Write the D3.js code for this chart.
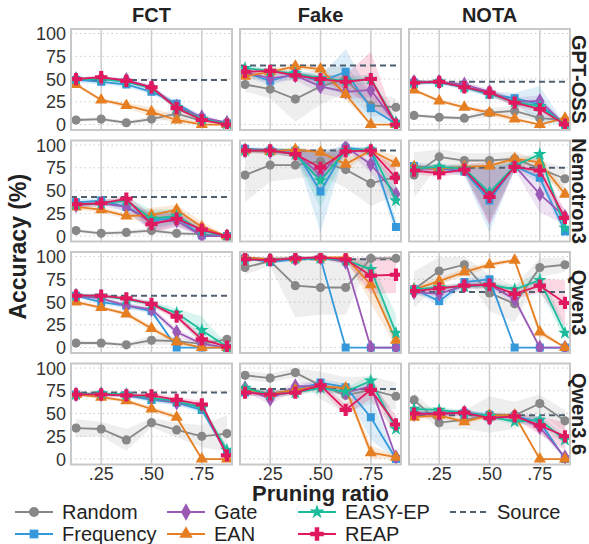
<!DOCTYPE html>
<html>
<head>
<meta charset="utf-8">
<script src="https://cdn.jsdelivr.net/npm/d3@7"></script>
<style>
  body { margin: 0; background: #fff; }
  svg { font-family: "Liberation Sans", Arial, sans-serif; }
</style>
</head>
<body>
<svg id="chart" width="589" height="544"></svg>
<script>

// pruning ratios on the x axis
var ratios = [0.125, 0.25, 0.375, 0.5, 0.625, 0.75, 0.875];
var seriesNames = ['Random', 'Frequency', 'Gate', 'EAN', 'EASY-EP', 'REAP'];
var colNames = ['FCT', 'Fake', 'NOTA'];
var rowNames = ['GPT-OSS', 'Nemotron3', 'Qwen3', 'Qwen3.6'];
var yTicks = [0, 25, 50, 75, 100];
var xTicks = [0.25, 0.5, 0.75];
var xTickLabels = ['.25', '.50', '.75'];

// source (unpruned) accuracy, rows x cols
var sourceAcc = [
  [49, 65, 47],
  [43, 94, 75],
  [57, 97, 61],
  [73, 77, 48]
];

// mean accuracy per panel, series order as seriesNames
var gptFct = [
  [5, 6, 2, 6, 12, 4, 2],
  [49, 47, 44, 36, 23, 7, 1],
  [50, 51, 49, 41, 20, 8, 2],
  [44, 27, 21, 14, 5, 0, 0],
  [50, 50, 47, 40, 19, 6, 1],
  [50, 52, 48, 41, 18, 5, 0]
];
var gptFake = [
  [44, 39, 28, 42, 50, 21, 19],
  [57, 48, 56, 47, 58, 18, 1],
  [57, 51, 54, 42, 36, 38, 1],
  [53, 58, 64, 61, 33, 0, 0],
  [62, 59, 56, 51, 48, 50, 2],
  [58, 59, 54, 50, 47, 50, 0]
];
var gptNota = [
  [10, 8, 7, 13, 15, 7, 5],
  [46, 46, 41, 33, 29, 22, 0],
  [47, 47, 44, 36, 25, 26, 0],
  [38, 26, 19, 13, 6, 0, 7],
  [46, 47, 41, 34, 25, 20, 0],
  [46, 47, 41, 35, 24, 17, 0]
];
var nemoFct = [
  [6, 3, 4, 6, 3, 2, 0],
  [37, 39, 32, 17, 20, 1, 0],
  [34, 36, 32, 15, 17, 0, 0],
  [32, 29, 22, 23, 29, 10, 0],
  [35, 36, 39, 19, 22, 6, 0],
  [35, 36, 41, 13, 19, 7, 0]
];
var nemoFake = [
  [67, 78, 78, 82, 73, 58, 65],
  [96, 94, 94, 49, 97, 94, 10],
  [94, 93, 91, 67, 98, 79, 46],
  [94, 93, 95, 92, 79, 94, 80],
  [94, 94, 90, 61, 94, 95, 39],
  [94, 94, 90, 75, 93, 94, 64]
];
var nemoNota = [
  [67, 87, 83, 83, 85, 74, 63],
  [77, 74, 71, 39, 77, 64, 5],
  [74, 74, 74, 46, 77, 46, 21],
  [76, 74, 76, 77, 85, 81, 46],
  [74, 76, 74, 48, 77, 90, 9],
  [72, 69, 73, 43, 76, 72, 20]
];
var qwen3Fct = [
  [5, 5, 3, 8, 7, 4, 9],
  [57, 50, 46, 40, 0, 0, 0],
  [57, 54, 46, 42, 17, 4, 0],
  [50, 44, 37, 21, 6, 0, 0],
  [57, 57, 53, 48, 38, 19, 1],
  [57, 57, 54, 48, 34, 9, 1]
];
var qwen3Fake = [
  [88, 95, 68, 66, 66, 98, 98],
  [98, 94, 97, 98, 0, 0, 0],
  [99, 97, 98, 99, 94, 0, 0],
  [99, 97, 98, 99, 99, 69, 8],
  [97, 96, 98, 98, 96, 86, 16],
  [97, 96, 98, 99, 97, 79, 80]
];
var qwen3Nota = [
  [64, 84, 91, 60, 48, 88, 91],
  [64, 51, 72, 75, 0, 0, 0],
  [61, 59, 68, 69, 53, 0, 0],
  [64, 73, 83, 91, 96, 17, 0],
  [64, 66, 67, 69, 64, 74, 16],
  [62, 65, 68, 69, 59, 68, 49]
];
var qwen36Fct = [
  [34, 33, 21, 40, 32, 25, 28],
  [71, 71, 70, 65, 62, 54, 7],
  [71, 71, 70, 67, 62, 58, 5],
  [71, 68, 64, 55, 46, 0, 0],
  [71, 72, 71, 67, 64, 56, 10],
  [71, 71, 70, 70, 65, 60, 4]
];
var qwen36Fake = [
  [92, 89, 95, 81, 70, 76, 69],
  [73, 72, 76, 84, 79, 46, 0],
  [78, 66, 80, 80, 73, 80, 2],
  [76, 72, 76, 80, 78, 7, 2],
  [78, 71, 73, 78, 74, 86, 33],
  [73, 71, 73, 81, 54, 76, 38]
];
var qwen36Nota = [
  [65, 40, 43, 49, 48, 61, 42],
  [50, 51, 51, 48, 47, 41, 0],
  [49, 49, 51, 45, 47, 35, 2],
  [46, 48, 41, 48, 48, 0, 0],
  [55, 54, 51, 47, 41, 43, 21],
  [50, 50, 51, 45, 47, 37, 25]
];

// spread (half width of the shaded band) per panel
var gptFctSd = [
  [2, 2, 2, 3, 5, 3, 2], [3, 3, 3, 3, 3, 2, 1], [2, 2, 2, 3, 3, 3, 1],
  [2, 2, 3, 5, 4, 1, 0], [2, 2, 2, 2, 3, 2, 1], [2, 2, 2, 2, 3, 2, 1]
];
var gptFakeSd = [
  [8, 10, 25, 20, 15, 12, 10], [4, 5, 4, 6, 25, 15, 1], [4, 5, 5, 8, 8, 8, 1],
  [4, 4, 3, 4, 6, 1, 0], [3, 3, 3, 4, 5, 5, 1], [4, 3, 3, 4, 8, 30, 1]
];
var gptNotaSd = [
  [2, 2, 2, 5, 6, 4, 2], [2, 2, 3, 3, 6, 20, 0], [2, 2, 3, 3, 5, 6, 0],
  [2, 2, 2, 3, 3, 1, 2], [2, 2, 2, 3, 4, 4, 0], [2, 2, 2, 3, 4, 4, 0]
];
var nemoFctSd = [
  [2, 2, 2, 3, 2, 1, 0], [3, 3, 5, 10, 8, 3, 0], [3, 3, 5, 10, 8, 3, 0],
  [3, 3, 3, 8, 5, 6, 0], [3, 3, 4, 10, 8, 4, 0], [3, 3, 4, 10, 8, 6, 0]
];
var nemoFakeSd = [
  [30, 18, 15, 15, 20, 25, 20], [2, 3, 3, 45, 2, 3, 10], [3, 3, 4, 25, 2, 10, 15],
  [2, 3, 2, 3, 6, 3, 8], [2, 3, 4, 30, 3, 3, 12], [2, 3, 4, 15, 3, 3, 10]
];
var nemoNotaSd = [
  [25, 8, 8, 8, 8, 10, 12], [4, 4, 5, 35, 4, 6, 5], [4, 4, 5, 35, 4, 20, 8],
  [3, 3, 3, 4, 4, 5, 6], [3, 3, 4, 30, 4, 4, 6], [4, 4, 4, 30, 4, 6, 8]
];
var qwen3FctSd = [
  [3, 2, 2, 5, 4, 3, 3], [2, 3, 3, 3, 1, 1, 0], [2, 3, 3, 3, 4, 2, 0],
  [2, 2, 3, 3, 3, 0, 0], [2, 2, 2, 3, 5, 15, 2], [2, 2, 2, 3, 4, 4, 1]
];
var qwen3FakeSd = [
  [8, 5, 35, 30, 30, 3, 3], [1, 2, 2, 2, 0, 0, 0], [1, 2, 2, 2, 3, 0, 0],
  [1, 2, 2, 1, 1, 20, 8], [1, 2, 2, 2, 2, 10, 20], [1, 2, 2, 1, 2, 20, 20]
];
var qwen3NotaSd = [
  [20, 15, 10, 20, 20, 10, 8], [3, 5, 4, 4, 0, 0, 0], [3, 4, 4, 4, 5, 0, 0],
  [3, 4, 4, 3, 2, 5, 0], [3, 3, 3, 3, 4, 10, 8], [3, 3, 3, 3, 5, 8, 25]
];
var qwen36FctSd = [
  [10, 8, 12, 5, 8, 12, 20], [2, 2, 2, 3, 3, 4, 3], [2, 2, 2, 3, 3, 4, 3],
  [2, 2, 2, 3, 3, 1, 0], [2, 2, 2, 3, 3, 4, 4], [2, 2, 2, 3, 3, 4, 3]
];
var qwen36FakeSd = [
  [5, 5, 5, 15, 20, 15, 15], [3, 4, 3, 4, 4, 25, 1], [4, 6, 4, 4, 4, 4, 2],
  [3, 3, 3, 3, 3, 8, 2], [3, 3, 3, 4, 4, 6, 8], [3, 3, 3, 4, 6, 10, 10]
];
var qwen36NotaSd = [
  [8, 8, 10, 20, 15, 10, 12], [3, 3, 3, 3, 3, 5, 1], [3, 3, 3, 3, 3, 5, 2],
  [3, 3, 3, 3, 3, 1, 0], [3, 3, 3, 3, 3, 5, 5], [3, 3, 3, 3, 3, 10, 15]
];

var panelMeans = [
  [gptFct, gptFake, gptNota],
  [nemoFct, nemoFake, nemoNota],
  [qwen3Fct, qwen3Fake, qwen3Nota],
  [qwen36Fct, qwen36Fake, qwen36Nota]
];
var panelSds = [
  [gptFctSd, gptFakeSd, gptNotaSd],
  [nemoFctSd, nemoFakeSd, nemoNotaSd],
  [qwen3FctSd, qwen3FakeSd, qwen3NotaSd],
  [qwen36FctSd, qwen36FakeSd, qwen36NotaSd]
];

var colors = {
  'Random': '#888888',
  'Frequency': '#3498db',
  'Gate': '#9b59b6',
  'EAN': '#e67e22',
  'EASY-EP': '#1abc9c',
  'REAP': '#e0195f'
};
var symbols = {
  'Random': { type: d3.symbolCircle, size: 66 },
  'Frequency': { type: d3.symbolSquare, size: 64 },
  'Gate': { type: d3.symbolDiamond, size: 72 },
  'EAN': { type: d3.symbolTriangle, size: 64 },
  'EASY-EP': { type: d3.symbolStar, size: 58 },
  'REAP': { type: d3.symbolCross, size: 84 }
};
var sourceColor = '#4f5f70';

var svg = d3.select('#chart');

// note: "top" is taken by window.top, so use other names
var gridLeft = 71, gridTop = 29;
var panelW = 161, panelH = 101;
var gapX = 8, gapY = 10.5;

var x = d3.scaleLinear().domain([0.1, 0.9]).range([0, panelW]);
var y = d3.scaleLinear().domain([-6, 105]).range([panelH, 0]);

var line = d3.line()
  .x(function(d, i) { return x(ratios[i]); })
  .y(function(d) { return y(d); });

var band = d3.area()
  .x(function(d) { return x(d.r); })
  .y0(function(d) { return y(Math.max(0, d.lo)); })
  .y1(function(d) { return y(Math.min(100, d.hi)); });

rowNames.forEach(function(rowName, ri) {
  colNames.forEach(function(colName, ci) {

    var px = gridLeft + ci * (panelW + gapX);
    var py = gridTop + ri * (panelH + gapY);
    var g = svg.append('g')
      .attr('transform', 'translate(' + px + ',' + py + ')');

    var clipId = 'clip-' + ri + '-' + ci;
    g.append('clipPath').attr('id', clipId)
      .append('rect')
      .attr('width', panelW).attr('height', panelH);

    // grid
    g.selectAll('.hgrid')
      .data(yTicks)
      .enter()
      .append('line')
      .attr('x1', 0).attr('x2', panelW)
      .attr('y1', function(d) { return y(d); })
      .attr('y2', function(d) { return y(d); })
      .attr('stroke', '#cccccc')
      .attr('stroke-width', 1)
      .attr('stroke-dasharray', '1.5,3');

    g.selectAll('.vgrid')
      .data(xTicks)
      .enter()
      .append('line')
      .attr('x1', function(d) { return x(d); })
      .attr('x2', function(d) { return x(d); })
      .attr('y1', 0).attr('y2', panelH)
      .attr('stroke', '#cccccc')
      .attr('stroke-width', 1.5);

    var plot = g.append('g').attr('clip-path', 'url(#' + clipId + ')');
    var means = panelMeans[ri][ci];
    var sds = panelSds[ri][ci];

    // shaded spread bands
    seriesNames.forEach(function(name, si) {
      var pts = means[si].map(function(v, i) {
        return { r: ratios[i], lo: v - sds[si][i], hi: v + sds[si][i] };
      });
      plot.append('path')
        .attr('d', band(pts))
        .attr('fill', colors[name])
        .attr('fill-opacity', name === 'Random' ? 0.14 : 0.17)
        .attr('stroke', 'none');
    });

    // source reference
    plot.append('line')
      .attr('x1', 0).attr('x2', panelW)
      .attr('y1', y(sourceAcc[ri][ci]))
      .attr('y2', y(sourceAcc[ri][ci]))
      .attr('stroke', sourceColor)
      .attr('stroke-width', 2)
      .attr('stroke-dasharray', '6,4');

    seriesNames.forEach(function(name, si) {
      plot.append('path')
        .attr('d', line(means[si]))
        .attr('fill', 'none')
        .attr('stroke', colors[name])
        .attr('stroke-width', 1.8);

      plot.selectAll('.m' + si)
        .data(means[si])
        .enter()
        .append('path')
        .attr('transform', function(d, i) {
          return 'translate(' + x(ratios[i]) + ',' + y(d) + ')';
        })
        .attr('d', d3.symbol().type(symbols[name].type).size(symbols[name].size))
        .attr('fill', colors[name]);
    });

    // panel frame
    g.append('rect')
      .attr('width', panelW).attr('height', panelH)
      .attr('fill', 'none')
      .attr('stroke', '#c8c8c8')
      .attr('stroke-width', 2);

    if (ci === 0) {
      g.selectAll('.ytick')
        .data(yTicks)
        .enter()
        .append('text')
        .attr('x', -5)
        .attr('y', function(d) { return y(d); })
        .attr('dy', '0.36em')
        .attr('text-anchor', 'end')
        .style('font-size', '18px')
        .attr('fill', '#333')
        .text(function(d) { return d; });
    }

    if (ri === rowNames.length - 1) {
      g.selectAll('.xtick')
        .data(xTicks)
        .enter()
        .append('text')
        .attr('x', function(d) { return x(d); })
        .attr('y', panelH + 15)
        .attr('text-anchor', 'middle')
        .style('font-size', '18px')
        .attr('fill', '#333')
        .text(function(d, i) { return xTickLabels[i]; });
    }

    if (ri === 0) {
      g.append('text')
        .attr('x', panelW / 2)
        .attr('y', -7)
        .attr('text-anchor', 'middle')
        .style('font-size', '20px')
        .style('font-weight', 'bold')
        .attr('fill', '#222')
        .text(colName);
    }

    if (ci === colNames.length - 1) {
      g.append('text')
        .attr('transform', 'translate(' + (panelW + 2) + ',' + (panelH / 2) + ') rotate(90)')
        .attr('text-anchor', 'middle')
        .style('font-size', '20px')
        .style('font-weight', 'bold')
        .attr('fill', '#222')
        .text(rowName);
    }
  });
});

// axis titles
var gridBottom = gridTop + 4 * panelH + 3 * gapY;
svg.append('text')
  .attr('transform', 'translate(26,' + ((gridTop + gridBottom) / 2) + ') rotate(-90)')
  .attr('text-anchor', 'middle')
  .style('font-size', '23px')
  .style('font-weight', 'bold')
  .attr('fill', '#222')
  .text('Accuracy (%)');

svg.append('text')
  .attr('x', gridLeft + (3 * panelW + 2 * gapX) / 2)
  .attr('y', gridBottom + 36)
  .attr('text-anchor', 'middle')
  .style('font-size', '22px')
  .style('font-weight', 'bold')
  .attr('fill', '#222')
  .text('Pruning ratio');

// legend
var legendItems = [
  { name: 'Random', col: 0, row: 0 },
  { name: 'Frequency', col: 0, row: 1 },
  { name: 'Gate', col: 1, row: 0 },
  { name: 'EAN', col: 1, row: 1 },
  { name: 'EASY-EP', col: 2, row: 0 },
  { name: 'REAP', col: 2, row: 1 },
  { name: 'Source', col: 3, row: 0 }
];
var legendX = [15, 167, 298, 450];
var legendY = [512, 534];

var leg = svg.selectAll('.legend')
  .data(legendItems)
  .enter()
  .append('g')
  .attr('transform', function(d) {
    return 'translate(' + legendX[d.col] + ',' + legendY[d.row] + ')';
  });

leg.append('line')
  .attr('x1', 0).attr('x2', 38)
  .attr('stroke', function(d) { return d.name === 'Source' ? sourceColor : colors[d.name]; })
  .attr('stroke-width', 2)
  .attr('stroke-dasharray', function(d) { return d.name === 'Source' ? '6,4' : null; });

leg.filter(function(d) { return d.name !== 'Source'; })
  .append('path')
  .attr('transform', 'translate(19,0)')
  .attr('d', function(d) {
    return d3.symbol().type(symbols[d.name].type).size(symbols[d.name].size * 1.2)();
  })
  .attr('fill', function(d) { return colors[d.name]; });

leg.append('text')
  .attr('x', 47)
  .attr('dy', '0.36em')
  .style('font-size', '20px')
  .attr('fill', '#222')
  .text(function(d) { return d.name; });

</script>
</body>
</html>
